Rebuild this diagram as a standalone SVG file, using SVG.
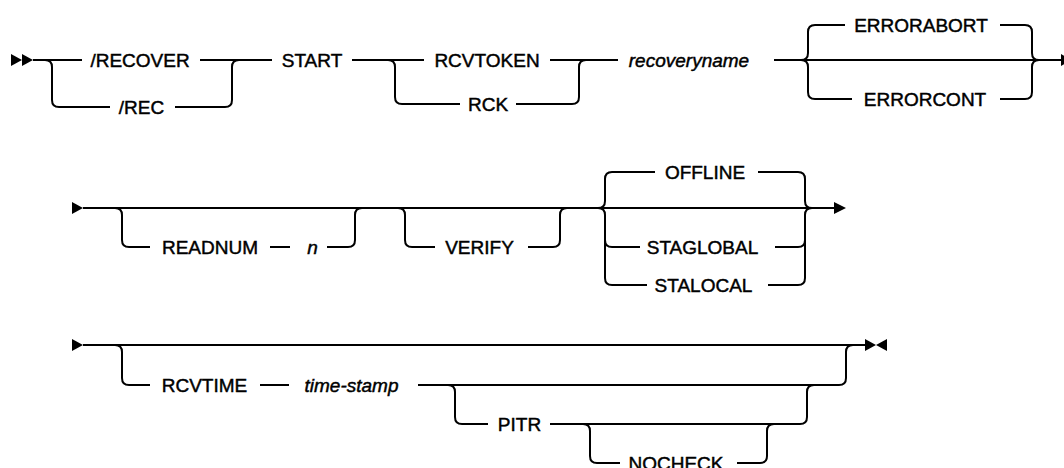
<svg xmlns="http://www.w3.org/2000/svg" width="1064" height="468" viewBox="0 0 1064 468">
<style>
.ln{fill:none;stroke:#000;stroke-width:2;stroke-linecap:butt}
.t{font-family:"Liberation Sans",Arial,sans-serif;font-size:19px;fill:#000;stroke:#000;stroke-width:0.45;text-anchor:middle}
.v{font-style:italic}
.ar{fill:#000}
</style>
<rect width="1064" height="468" fill="#fff"/>
<g id="connectors">
<!-- row 1 -->
<polygon class="ar" points="11,54 22,60 11,66"/>
<polygon class="ar" points="22,54 33,60 22,66"/>
<path class="ln" d="M33,60 H82 M200,60 H272 M352,60 H424 M550,60 H618 M774,60 H1062"/>
<path class="ln" d="M45,60 Q52,60 52,67 V100 Q52,107 59,107 H110 M175,107 H225 Q232,107 232,100 V67 Q232,60 239,60"/>
<path class="ln" d="M388,60 Q395,60 395,67 V97 Q395,104 402,104 H460 M516,104 H572 Q579,104 579,97 V67 Q579,60 586,60"/>
<path class="ln" d="M801,60 Q808,60 808,53 V32 Q808,25 815,25 H845 M1000,25 H1025 Q1032,25 1032,32 V53 Q1032,60 1039,60"/>
<path class="ln" d="M801,60 Q808,60 808,67 V92 Q808,99 815,99 H852 M1000,99 H1025 Q1032,99 1032,92 V67 Q1032,60 1039,60"/>
<polygon class="ar" points="1061,54 1072,60 1061,66"/>
<!-- row 2 -->
<polygon class="ar" points="72,202 83,208 72,214"/>
<path class="ln" d="M83,208 H834"/>
<path class="ln" d="M115,208 Q122,208 122,215 V240 Q122,247 129,247 H150 M270,247 H290 M327,247 H348 Q355,247 355,240 V215 Q355,208 362,208"/>
<path class="ln" d="M398,208 Q405,208 405,215 V240 Q405,247 412,247 H435 M528,247 H553 Q560,247 560,240 V215 Q560,208 567,208"/>
<path class="ln" d="M598,208 Q605,208 605,201 V179 Q605,172 612,172 H655 M758,172 H798 Q805,172 805,179 V201 Q805,208 812,208"/>
<path class="ln" d="M598,208 Q605,208 605,215 V278 Q605,285 612,285 H647 M605,240 Q605,247 612,247 H640"/>
<path class="ln" d="M775,247 H798 Q805,247 805,240 M768,285 H798 Q805,285 805,278 V215 Q805,208 812,208"/>
<polygon class="ar" points="834,202 846,208 834,214"/>
<!-- row 3 -->
<polygon class="ar" points="72,339 83,345 72,351"/>
<path class="ln" d="M83,345 H866"/>
<path class="ln" d="M115,345 Q122,345 122,352 V378 Q122,385 129,385 H150 M260,385 H289 M418,385 H839 Q846,385 846,378 V352 Q846,345 853,345"/>
<path class="ln" d="M448,385 Q455,385 455,392 V417 Q455,424 462,424 H488 M550,424 H800 Q807,424 807,417 V392 Q807,385 814,385"/>
<path class="ln" d="M583,424 Q590,424 590,431 V456 Q590,463 597,463 H620 M737,463 H760 Q767,463 767,456 V431 Q767,424 774,424"/>
<polygon class="ar" points="865,339 876,345 865,351"/>
<polygon class="ar" points="887,339 876,345 887,351"/>
</g>
<g id="n-recover"><text class="t" x="140" y="67">/RECOVER</text></g>
<g id="n-rec"><text class="t" x="141.5" y="114">/REC</text></g>
<g id="n-start"><text class="t" x="312" y="67">START</text></g>
<g id="n-rcvtoken"><text class="t" x="487" y="67">RCVTOKEN</text></g>
<g id="n-rck"><text class="t" x="488" y="111">RCK</text></g>
<g id="n-recoveryname"><text class="t v" x="689" y="67">recoveryname</text></g>
<g id="n-errorabort"><text class="t" x="921" y="32">ERRORABORT</text></g>
<g id="n-errorcont"><text class="t" x="925" y="106">ERRORCONT</text></g>
<g id="n-readnum"><text class="t" x="210" y="254">READNUM</text></g>
<g id="n-n"><text class="t v" x="312.5" y="254">n</text></g>
<g id="n-verify"><text class="t" x="479.5" y="254">VERIFY</text></g>
<g id="n-offline"><text class="t" x="705" y="179">OFFLINE</text></g>
<g id="n-staglobal"><text class="t" x="702.5" y="254">STAGLOBAL</text></g>
<g id="n-stalocal"><text class="t" x="703.5" y="292">STALOCAL</text></g>
<g id="n-rcvtime"><text class="t" x="204.5" y="392">RCVTIME</text></g>
<g id="n-timestamp"><text class="t v" x="351.5" y="392">time-stamp</text></g>
<g id="n-pitr"><text class="t" x="519.5" y="431">PITR</text></g>
<g id="n-nocheck"><text class="t" x="676" y="470">NOCHECK</text></g>
</svg>
